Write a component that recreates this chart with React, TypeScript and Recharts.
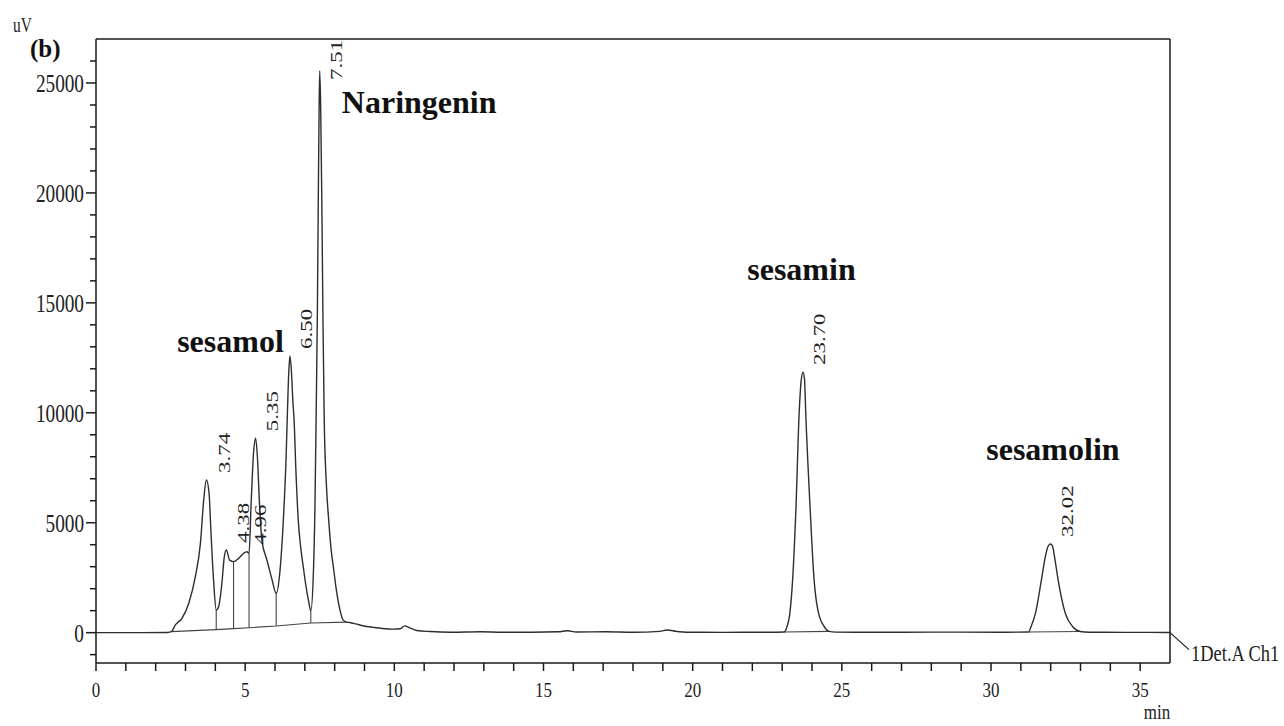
import React from "react";
import {
  LineChart,
  Line,
  XAxis,
  YAxis,
  ReferenceLine,
  ReferenceDot,
  Customized,
} from "recharts";

// retention time (min) and detector signal (uV)
const traceTime = [
  0, 1.5, 2.4, 2.53, 2.66, 2.88, 3.11, 3.33, 3.5, 3.61, 3.7, 3.79, 3.85, 3.94,
  4.03, 4.11, 4.22, 4.3, 4.37, 4.48, 4.61, 4.78, 4.95, 5.06, 5.13, 5.2, 5.28,
  5.35, 5.41, 5.48, 5.56, 5.73, 5.89, 6.04, 6.17, 6.28, 6.37, 6.41, 6.46, 6.5,
  6.55, 6.6, 6.64, 6.7, 6.78, 6.86, 6.95, 7.04, 7.12, 7.2, 7.29, 7.34, 7.38,
  7.42, 7.45, 7.48, 7.5, 7.53, 7.57, 7.61, 7.65, 7.72, 7.8, 7.88, 7.97, 8.05,
  8.13, 8.2, 8.28, 8.4, 8.5, 8.7, 8.97, 9.3, 9.6, 9.95, 10.2, 10.35, 10.5,
  10.75, 11.2, 11.9, 12.9, 13.6, 14.6, 15.5, 15.8, 16.1, 17.1, 18.0, 18.9,
  19.15, 19.45, 19.8, 21.0, 22.5, 23.07, 23.16, 23.25, 23.35, 23.46, 23.57,
  23.64, 23.7, 23.75, 23.79, 23.94, 24.07, 24.2, 24.41, 24.57, 24.8, 25.5,
  27.0, 29.0, 30.5, 31.26, 31.34, 31.49, 31.69, 31.82, 31.92, 32.0, 32.07,
  32.13, 32.25, 32.49, 32.74, 32.99, 33.3, 34.5, 36,
];
const traceSignal = [
  0, 0, 10, 45, 350, 650, 1340, 2550, 4060, 6030, 6940, 6340, 4670, 2400,
  1030, 1180, 2245, 3450, 3760, 3300, 3230, 3380, 3610, 3680, 3610, 5880, 8150,
  8840, 8000, 5880, 4210, 3300, 2470, 1790, 2850, 5120, 7900, 9700, 11800,
  12580, 11900, 10500, 9670, 7400, 5120, 3900, 2970, 2100, 1480, 1000, 2850,
  5800, 10000, 14500, 19500, 24000, 25550, 24000, 19500, 14000, 9700, 6800,
  5120, 3800, 2850, 2000, 1340, 900, 580, 480, 460, 400, 305, 240, 190, 160,
  180, 310, 230, 100, 50, 20, 40, 20, 20, 40, 90, 30, 40, 20, 60, 120, 60, 20,
  15, 20, 30, 270, 800, 2400, 5580, 10000, 11500, 11850, 11500, 10000, 5580,
  2400, 1000, 270, 60, 25, 20, 20, 25, 20, 30, 270, 880, 2400, 3450, 3950,
  4030, 3900, 3450, 2400, 880, 270, 50, 20, 15, 10,
];

// integration baseline under the early cluster
const baseTime = [2.53, 4.03, 4.61, 5.13, 6.04, 7.2, 8.4];
const baseSignal = [45, 140, 185, 225, 300, 440, 480];

// drop lines between the merged peaks
const dropTime = [4.03, 4.61, 5.13, 6.04, 7.2];
const dropTop = [1030, 3230, 3610, 1790, 1000];
const dropBottom = [140, 185, 225, 300, 440];

// baselines under sesamin and sesamolin
const sesaminBaseTime = [23.07, 24.57];
const sesaminBaseSignal = [30, 60];
const sesamolinBaseTime = [31.26, 32.99];
const sesamolinBaseSignal = [30, 50];

const peakTime = [3.74, 4.38, 4.96, 5.35, 6.5, 7.51, 23.7, 32.02];
const peakSignal = [6940, 3760, 3680, 8840, 12580, 25550, 11850, 4030];
const peakText = ["3.74", "4.38", "4.96", "5.35", "6.50", "7.51", "23.70", "32.02"];

const compoundName = ["sesamol", "Naringenin", "sesamin", "sesamolin"];
const compoundTime = [2.72, 8.24, 21.83, 29.84];
const compoundSignal = [12750, 23620, 16030, 7850];

const xTicks = [
  0, 1, 2, 3, 4, 5, 6, 7, 8, 9, 10, 11, 12, 13, 14, 15, 16, 17, 18, 19, 20, 21,
  22, 23, 24, 25, 26, 27, 28, 29, 30, 31, 32, 33, 34, 35,
];
const yTicks = [
  -1000, 0, 1000, 2000, 3000, 4000, 5000, 6000, 7000, 8000, 9000, 10000, 11000,
  12000, 13000, 14000, 15000, 16000, 17000, 18000, 19000, 20000, 21000, 22000,
  23000, 24000, 25000, 26000,
];

const zip = (t: number[], v: number[]) => t.map((x, i) => ({ t: x, v: v[i] }));
const trace = zip(traceTime, traceSignal);
const baseline = zip(baseTime, baseSignal);
const sesaminBase = zip(sesaminBaseTime, sesaminBaseSignal);
const sesamolinBase = zip(sesamolinBaseTime, sesamolinBaseSignal);

const SERIF = "'Liberation Serif', 'Times New Roman', serif";
const INK = "#1a1a1a";
const PLOT_TOP = 39;

const YTick = (props: any) => {
  const { x, y, payload } = props;
  const v = payload.value;
  const major = v % 5000 === 0;
  return (
    <g>
      <line x1={x} x2={x - (major ? 10 : 6)} y1={y} y2={y} stroke={INK} strokeWidth={1.5} />
      {major && (
        <text
          transform={`translate(${x - 12},${y}) scale(0.77,1)`}
          textAnchor="end"
          dy="0.36em"
          fontSize={25}
          fontFamily={SERIF}
          fill="#222"
        >
          {v}
        </text>
      )}
    </g>
  );
};

const XTick = (props: any) => {
  const { x, y, payload } = props;
  const v = payload.value;
  return (
    <g>
      <line x1={x} x2={x} y1={y} y2={y + 8} stroke={INK} strokeWidth={1.5} />
      {v % 5 === 0 && (
        <text
          transform={`translate(${x},${y + 34}) scale(0.77,1)`}
          textAnchor="middle"
          fontSize={22}
          fontFamily={SERIF}
          fill="#222"
        >
          {v}
        </text>
      )}
    </g>
  );
};

const PeakTag = (props: any) => {
  const { viewBox, text } = props;
  const cx = viewBox.x + viewBox.width / 2;
  const cy = viewBox.y + viewBox.height / 2;
  // labels hug the apex, but never climb into the top frame
  const sy = Math.max(cy - 7, PLOT_TOP + 41);
  return (
    <text
      transform={`translate(${cx + 22},${sy}) scale(0.77,1) rotate(-90)`}
      fontSize={23}
      fontFamily={SERIF}
      fill="#222"
    >
      {text}
    </text>
  );
};

const NameTag = (props: any) => {
  const { viewBox, text } = props;
  const cx = viewBox.x + viewBox.width / 2;
  const cy = viewBox.y + viewBox.height / 2;
  return (
    <text x={cx} y={cy} fontSize={32} fontWeight="bold" fontFamily={SERIF} fill="#111">
      {text}
    </text>
  );
};

const ChannelTag = (props: any) => {
  const { viewBox } = props;
  const cx = viewBox.x + viewBox.width / 2;
  const cy = viewBox.y + viewBox.height / 2;
  return (
    <g>
      <line x1={cx} y1={cy} x2={cx + 19} y2={cy + 17} stroke={INK} strokeWidth={1.2} />
      <text
        transform={`translate(${cx + 21},${cy + 28}) scale(0.77,1)`}
        fontSize={24}
        fontFamily={SERIF}
        fill="#222"
      >
        1Det.A Ch1
      </text>
    </g>
  );
};

const Captions = () => (
  <g fontFamily={SERIF} fill="#222">
    <text transform="translate(13,32) scale(0.77,1)" fontSize={20}>
      uV
    </text>
    <text x={30} y={57} fontSize={25} fontWeight="bold" fill="#111">
      (b)
    </text>
    <text transform="translate(1157,719) scale(0.77,1)" textAnchor="middle" fontSize={22}>
      min
    </text>
  </g>
);

export default function App() {
  return (
    <div style={{ position: "absolute", left: 0, top: 0, background: "#fff" }}>
      <LineChart
        width={1284}
        height={726}
        margin={{ top: 39, right: 114, left: 16, bottom: 23 }}
      >
        <XAxis
          type="number"
          dataKey="t"
          domain={[0, 36]}
          ticks={xTicks}
          interval={0}
          allowDataOverflow
          height={40}
          tickSize={0}
          tickMargin={0}
          tickLine={false}
          tick={<XTick />}
          axisLine={{ stroke: INK, strokeWidth: 1.5 }}
        />
        <YAxis
          type="number"
          dataKey="v"
          domain={[-1380, 27000]}
          ticks={yTicks}
          interval={0}
          allowDataOverflow
          width={80}
          tickSize={0}
          tickMargin={0}
          tickLine={false}
          tick={<YTick />}
          axisLine={{ stroke: INK, strokeWidth: 1.5 }}
        />
        <ReferenceLine y={27000} stroke={INK} strokeWidth={1.5} />
        <ReferenceLine x={36} stroke={INK} strokeWidth={1.5} />

        <Line
          data={baseline}
          dataKey="v"
          type="linear"
          stroke="#444"
          strokeWidth={1.1}
          dot={false}
          isAnimationActive={false}
        />
        <Line
          data={sesaminBase}
          dataKey="v"
          type="linear"
          stroke="#444"
          strokeWidth={1.1}
          dot={false}
          isAnimationActive={false}
        />
        <Line
          data={sesamolinBase}
          dataKey="v"
          type="linear"
          stroke="#444"
          strokeWidth={1.1}
          dot={false}
          isAnimationActive={false}
        />
        {dropTime.map((t, i) => (
          <ReferenceLine
            key={`drop-${t}`}
            segment={[
              { x: t, y: dropBottom[i] },
              { x: t, y: dropTop[i] },
            ]}
            stroke="#444"
            strokeWidth={1.1}
          />
        ))}
        <Line
          data={trace}
          dataKey="v"
          type="monotone"
          stroke="#2e2e2e"
          strokeWidth={1.4}
          dot={false}
          isAnimationActive={false}
        />

        {peakTime.map((t, i) => (
          <ReferenceDot
            key={`peak-${t}`}
            x={t}
            y={peakSignal[i]}
            r={1}
            fill="none"
            stroke="none"
            ifOverflow="visible"
            label={<PeakTag text={peakText[i]} />}
          />
        ))}
        {compoundName.map((name, i) => (
          <ReferenceDot
            key={name}
            x={compoundTime[i]}
            y={compoundSignal[i]}
            r={1}
            fill="none"
            stroke="none"
            ifOverflow="visible"
            label={<NameTag text={name} />}
          />
        ))}
        <ReferenceDot
          x={36}
          y={0}
          r={1}
          fill="none"
          stroke="none"
          ifOverflow="visible"
          label={<ChannelTag />}
        />
        <Customized component={Captions} />
      </LineChart>
    </div>
  );
}
